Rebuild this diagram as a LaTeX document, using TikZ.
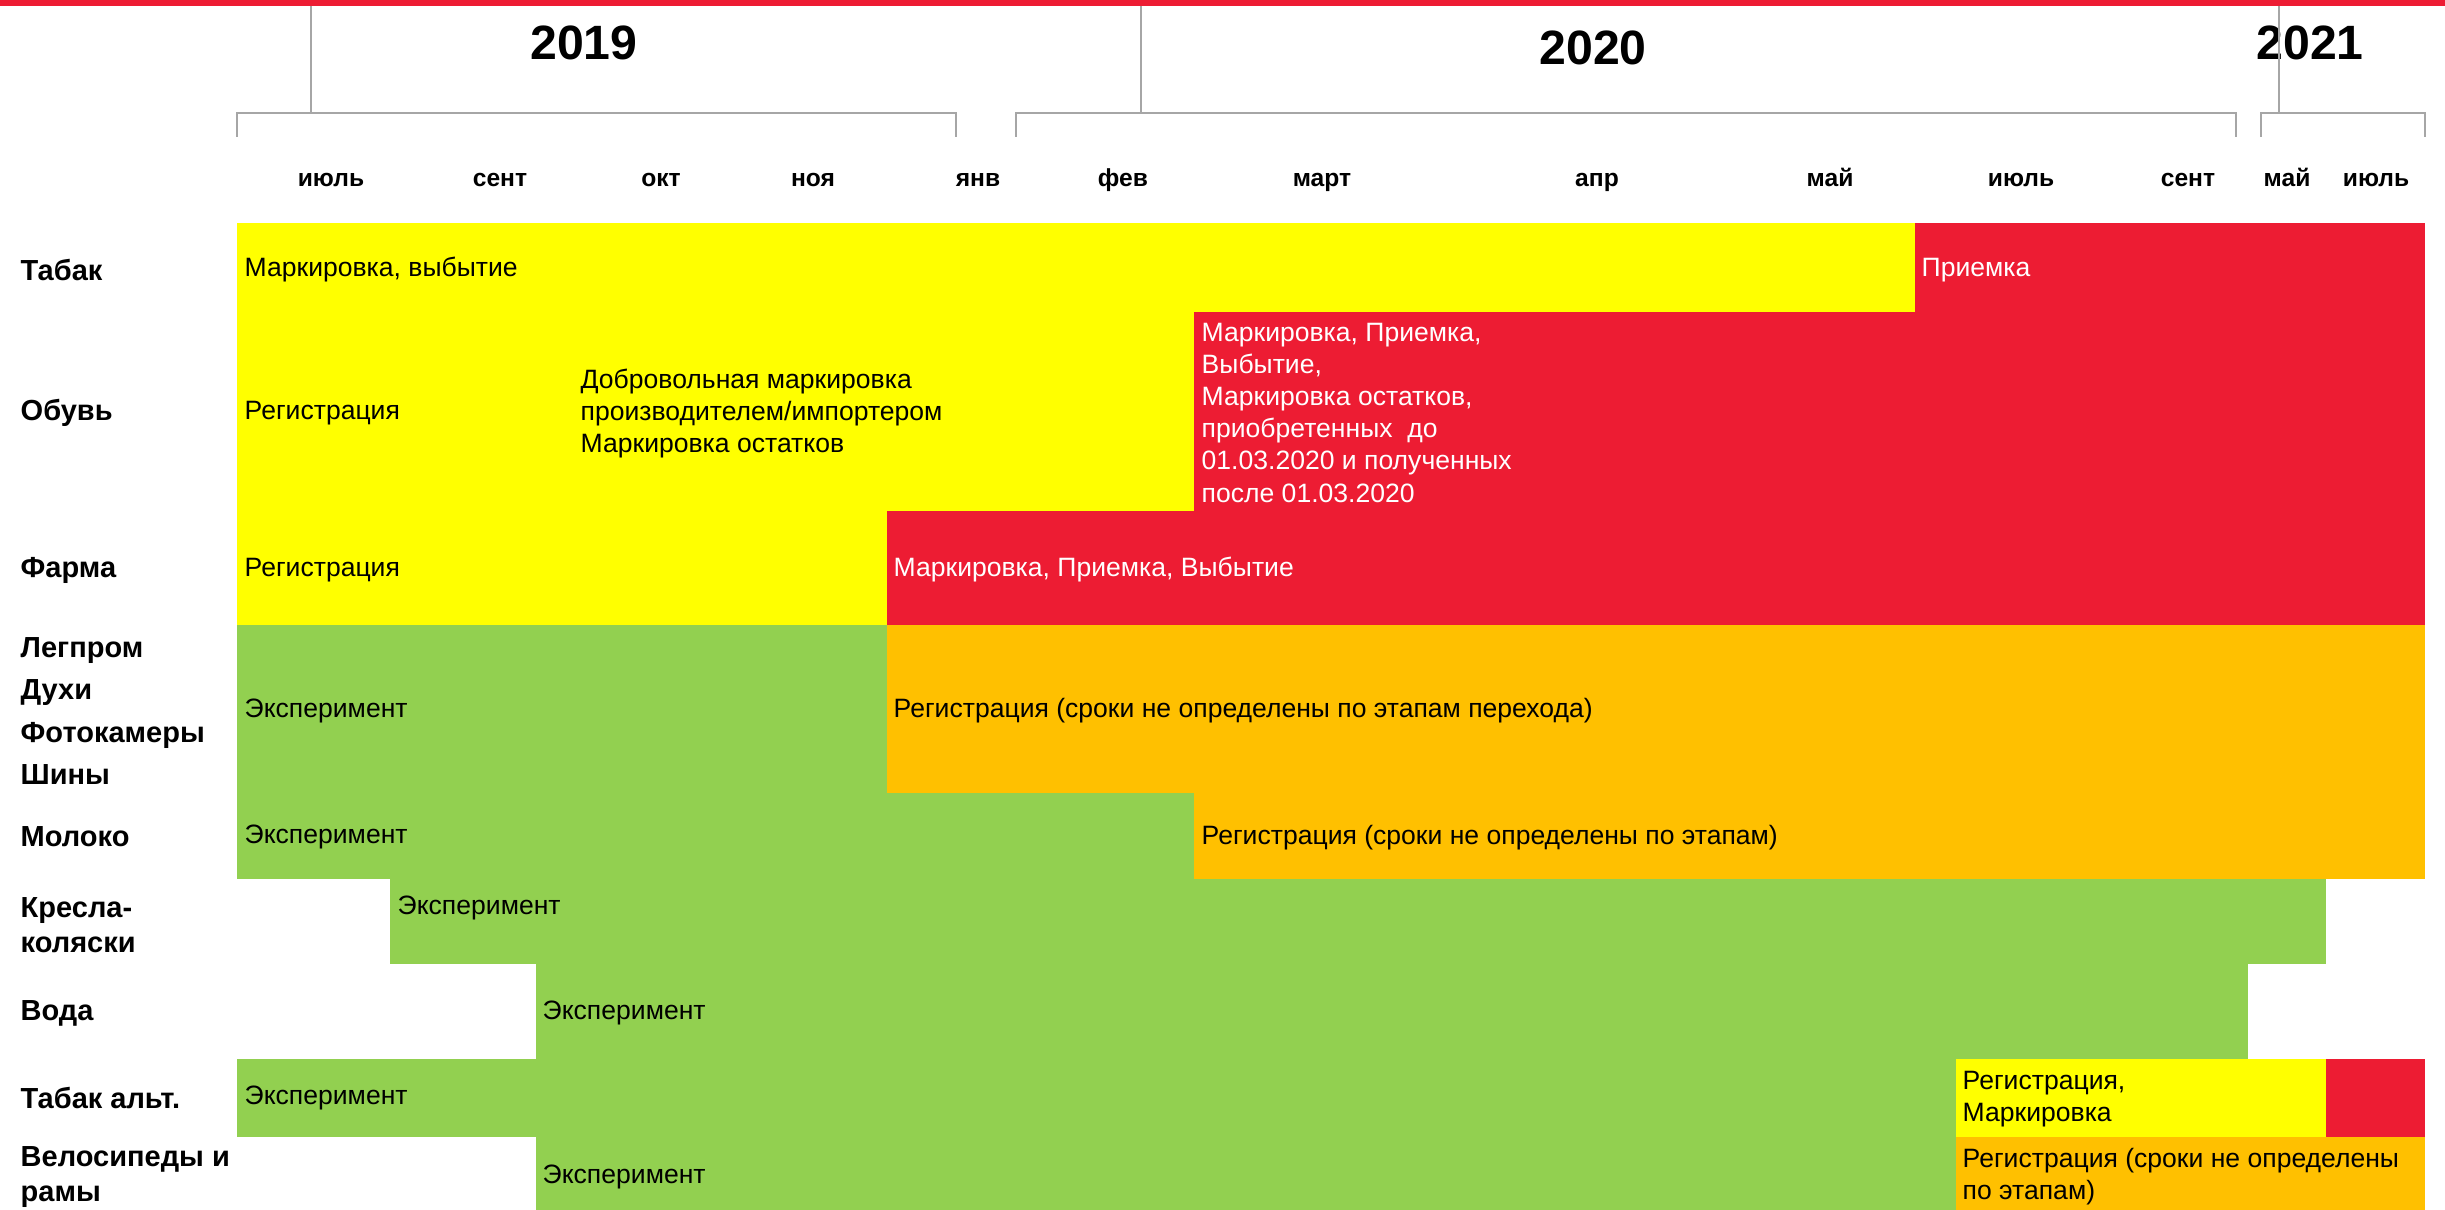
\documentclass[tikz,border=0pt]{standalone}
\usepackage{fontspec}
\setmainfont{Liberation Sans}
\definecolor{barred}{RGB}{237,28,51}
\definecolor{baryellow}{RGB}{255,255,0}
\definecolor{bargreen}{RGB}{146,208,80}
\definecolor{barorange}{RGB}{255,192,0}
\definecolor{linegray}{RGB}{166,166,166}
\tikzset{
    rowlabel/.style={anchor=west, inner sep=0pt, align=left, font=\bfseries\fontsize{8.25}{10}\selectfont}, % product names on the left
    phase/.style={anchor=west, inner sep=0pt, align=left, font=\fontsize{7.55}{9.1}\selectfont}, % text on the bars
    month/.style={anchor=base, inner sep=0pt, font=\bfseries\fontsize{7}{8}\selectfont},
    year/.style={anchor=base, inner sep=0pt, font=\bfseries\fontsize{13.7}{16}\selectfont},
    bracket/.style={draw=linegray, line width=0.7pt},
}

\begin{document}
\begin{tikzpicture}[x=0.01cm, y=-0.01cm]
    \useasboundingbox (0,0) rectangle (2445,1210);
    \fill[barred] (0,0) rectangle (2445,6);

    % bars
    \fill[baryellow] (237,223) rectangle (1915,312);
    \fill[barred] (1915,223) rectangle (2425,312);
    \fill[baryellow] (237,312) rectangle (1194,511);
    \fill[barred] (1194,312) rectangle (2425,511);
    \fill[baryellow] (237,511) rectangle (887,625);
    \fill[barred] (887,511) rectangle (2425,625);
    \fill[bargreen] (237,625) rectangle (887,793);
    \fill[barorange] (887,625) rectangle (2425,793);
    \fill[bargreen] (237,793) rectangle (1194,879);
    \fill[barorange] (1194,793) rectangle (2425,879);
    \fill[bargreen] (390,879) rectangle (2326,964);
    \fill[bargreen] (536,964) rectangle (2248,1059);
    \fill[bargreen] (237,1059) rectangle (1956,1137);
    \fill[baryellow] (1956,1059) rectangle (2326,1137);
    \fill[barred] (2326,1059) rectangle (2425,1137);
    \fill[bargreen] (536,1137) rectangle (1956,1210);
    \fill[barorange] (1956,1137) rectangle (2425,1210);

    % row names
    \node[rowlabel] (tabak) at (20,270) {Табак};
    \node[rowlabel] (obuv) at (20,413) {Обувь};
    \node[rowlabel] (farma) at (20,570) {Фарма};
    \node[rowlabel] (legprom) at (20,711) {Легпром\\[2pt]Духи\\[2pt]Фотокамеры\\[2pt]Шины};
    \node[rowlabel] (moloko) at (20,837) {Молоко};
    \node[rowlabel] (kresla) at (20,925) {Кресла-\\коляски};
    \node[rowlabel] (voda) at (20,1013) {Вода};
    \node[rowlabel] (tabakalt) at (20,1098) {Табак альт.};
    \node[rowlabel] (velo) at (20,1177) {Велосипеды и\\рамы};

    % phases
    \node[phase] (tabak1) at (244,270) {Маркировка, выбытие};
    \node[phase, text=white] (tabak2) at (1921,270) {Приемка};
    \node[phase] (obuv1) at (244,413) {Регистрация};
    \node[phase] (obuv2) at (580,414) {Добровольная маркировка\\производителем/импортером\\Маркировка остатков};
    \node[phase, text=white] (obuv3) at (1201,413) {Маркировка, Приемка,\\Выбытие,\\Маркировка остатков,\\приобретенных~ до\\01.03.2020 и полученных\\после 01.03.2020};
    \node[phase] (farma1) at (244,570) {Регистрация};
    \node[phase, text=white] (farma2) at (893,570) {Маркировка, Приемка, Выбытие};
    \node[phase] (legprom1) at (244,711) {Эксперимент};
    \node[phase] (legprom2) at (893,711) {Регистрация (сроки не определены по этапам перехода)};
    \node[phase] (moloko1) at (244,837) {Эксперимент};
    \node[phase] (moloko2) at (1201,838) {Регистрация (сроки не определены по этапам)};
    \node[phase] (kresla1) at (397,908) {Эксперимент};
    \node[phase] (voda1) at (542,1013) {Эксперимент};
    \node[phase] (tabakalt1) at (244,1098) {Эксперимент};
    \node[phase] (tabakalt2) at (1962,1099) {Регистрация,\\Маркировка};
    \node[phase] (velo1) at (542,1177) {Эксперимент};
    \node[phase] (velo2) at (1962,1177) {Регистрация (сроки не определены\\по этапам)};

    % timeline
    \foreach \x/\m [count=\i] in {331/июль, 500/сент, 661/окт, 813/ноя, 978/янв, 1123/фев,
        1322/март, 1597/апр, 1830/май, 2021/июль, 2188/сент, 2287/май, 2376/июль}
        \node[month] (mon\i) at (\x,187) {\m};
    \node[year] (y2019) at (584,60) {2019};
    \node[year] (y2020) at (1593,65) {2020};
    \node[year] (y2021) at (2310,60) {2021};
    \draw[bracket] (237,137) -- (237,113) -- (956,113) -- (956,137);
    \draw[bracket] (1016,137) -- (1016,113) -- (2236,113) -- (2236,137);
    \draw[bracket] (2261,137) -- (2261,113) -- (2425,113) -- (2425,137);
    \draw[bracket] (311,6) -- (311,113);
    \draw[bracket] (1141,6) -- (1141,113);
    \draw[bracket] (2279,6) -- (2279,113);
\end{tikzpicture}
\end{document}
